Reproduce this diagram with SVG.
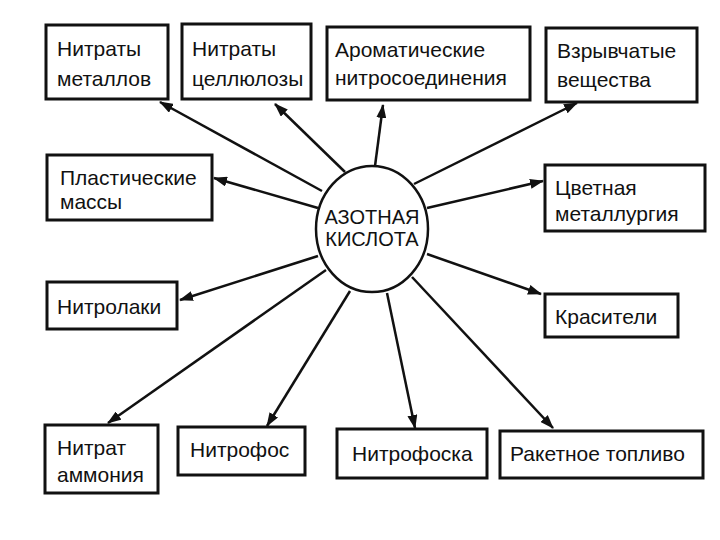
<svg xmlns="http://www.w3.org/2000/svg" width="720" height="540" viewBox="0 0 720 540">
<style>
.box{fill:#fff;stroke:#111;stroke-width:3}
.t{font-family:"Liberation Sans",Arial,sans-serif;font-size:21px;fill:#111}
.c{font-family:"Liberation Sans",Arial,sans-serif;font-size:20px;fill:#111;text-anchor:middle}
.ln{stroke:#111;stroke-width:2.5;fill:none;marker-end:url(#ah)}
</style>
<defs>
<marker id="ah" markerUnits="userSpaceOnUse" markerWidth="14" markerHeight="10" refX="13" refY="5" orient="auto">
<path d="M0,0 L14,5 L0,10 Z" fill="#111"/>
</marker>
</defs>
<rect width="720" height="540" fill="#fff"/>
<g id="connectors">
<line class="ln" x1="322" y1="191" x2="160" y2="102"/>
<line class="ln" x1="345" y1="172" x2="275" y2="104"/>
<line class="ln" x1="375" y1="166" x2="383" y2="105"/>
<line class="ln" x1="414" y1="184" x2="577" y2="103"/>
<line class="ln" x1="318" y1="208" x2="214" y2="178"/>
<line class="ln" x1="427" y1="208" x2="543" y2="181"/>
<line class="ln" x1="318" y1="256" x2="180" y2="300"/>
<line class="ln" x1="427" y1="254" x2="541" y2="294"/>
<line class="ln" x1="326" y1="270" x2="108" y2="423"/>
<line class="ln" x1="350" y1="291" x2="267" y2="426"/>
<line class="ln" x1="387" y1="293" x2="415" y2="428"/>
<line class="ln" x1="412" y1="277" x2="553" y2="428"/>
</g>
<g id="center">
<ellipse cx="372" cy="229" rx="56" ry="63" fill="#fff" stroke="#111" stroke-width="2.5"/>
<text class="c" x="372" y="224">АЗОТНАЯ</text>
<text class="c" x="372" y="246">КИСЛОТА</text>
</g>
<g id="n1"><rect class="box" x="46" y="25" width="122" height="74"/><text class="t" x="57" y="56">Нитраты</text><text class="t" x="57" y="86">металлов</text></g>
<g id="n2"><rect class="box" x="182" y="24" width="129" height="75"/><text class="t" x="192" y="56">Нитраты</text><text class="t" x="192" y="86">целлюлозы</text></g>
<g id="n3"><rect class="box" x="327" y="27" width="203" height="73"/><text class="t" x="335" y="57">Ароматические</text><text class="t" x="335" y="85">нитросоединения</text></g>
<g id="n4"><rect class="box" x="546" y="28" width="151" height="74"/><text class="t" x="557" y="58">Взрывчатые</text><text class="t" x="557" y="87">вещества</text></g>
<g id="n5"><rect class="box" x="47" y="155" width="165" height="65"/><text class="t" x="60" y="185">Пластические</text><text class="t" x="60" y="209">массы</text></g>
<g id="n6"><rect class="box" x="47" y="282" width="130" height="47"/><text class="t" x="57" y="314">Нитролаки</text></g>
<g id="n7"><rect class="box" x="545" y="165" width="160" height="66"/><text class="t" x="555" y="195">Цветная</text><text class="t" x="555" y="221">металлургия</text></g>
<g id="n8"><rect class="box" x="545" y="294" width="133" height="43"/><text class="t" x="555" y="324">Красители</text></g>
<g id="n9"><rect class="box" x="45" y="425" width="113" height="68"/><text class="t" x="57" y="455">Нитрат</text><text class="t" x="57" y="482">аммония</text></g>
<g id="n10"><rect class="box" x="178" y="427" width="127" height="48"/><text class="t" x="190" y="457">Нитрофос</text></g>
<g id="n11"><rect class="box" x="337" y="429" width="150" height="49"/><text class="t" x="352" y="461">Нитрофоска</text></g>
<g id="n12"><rect class="box" x="500" y="431" width="203" height="47"/><text class="t" x="510" y="461">Ракетное топливо</text></g>
</svg>
